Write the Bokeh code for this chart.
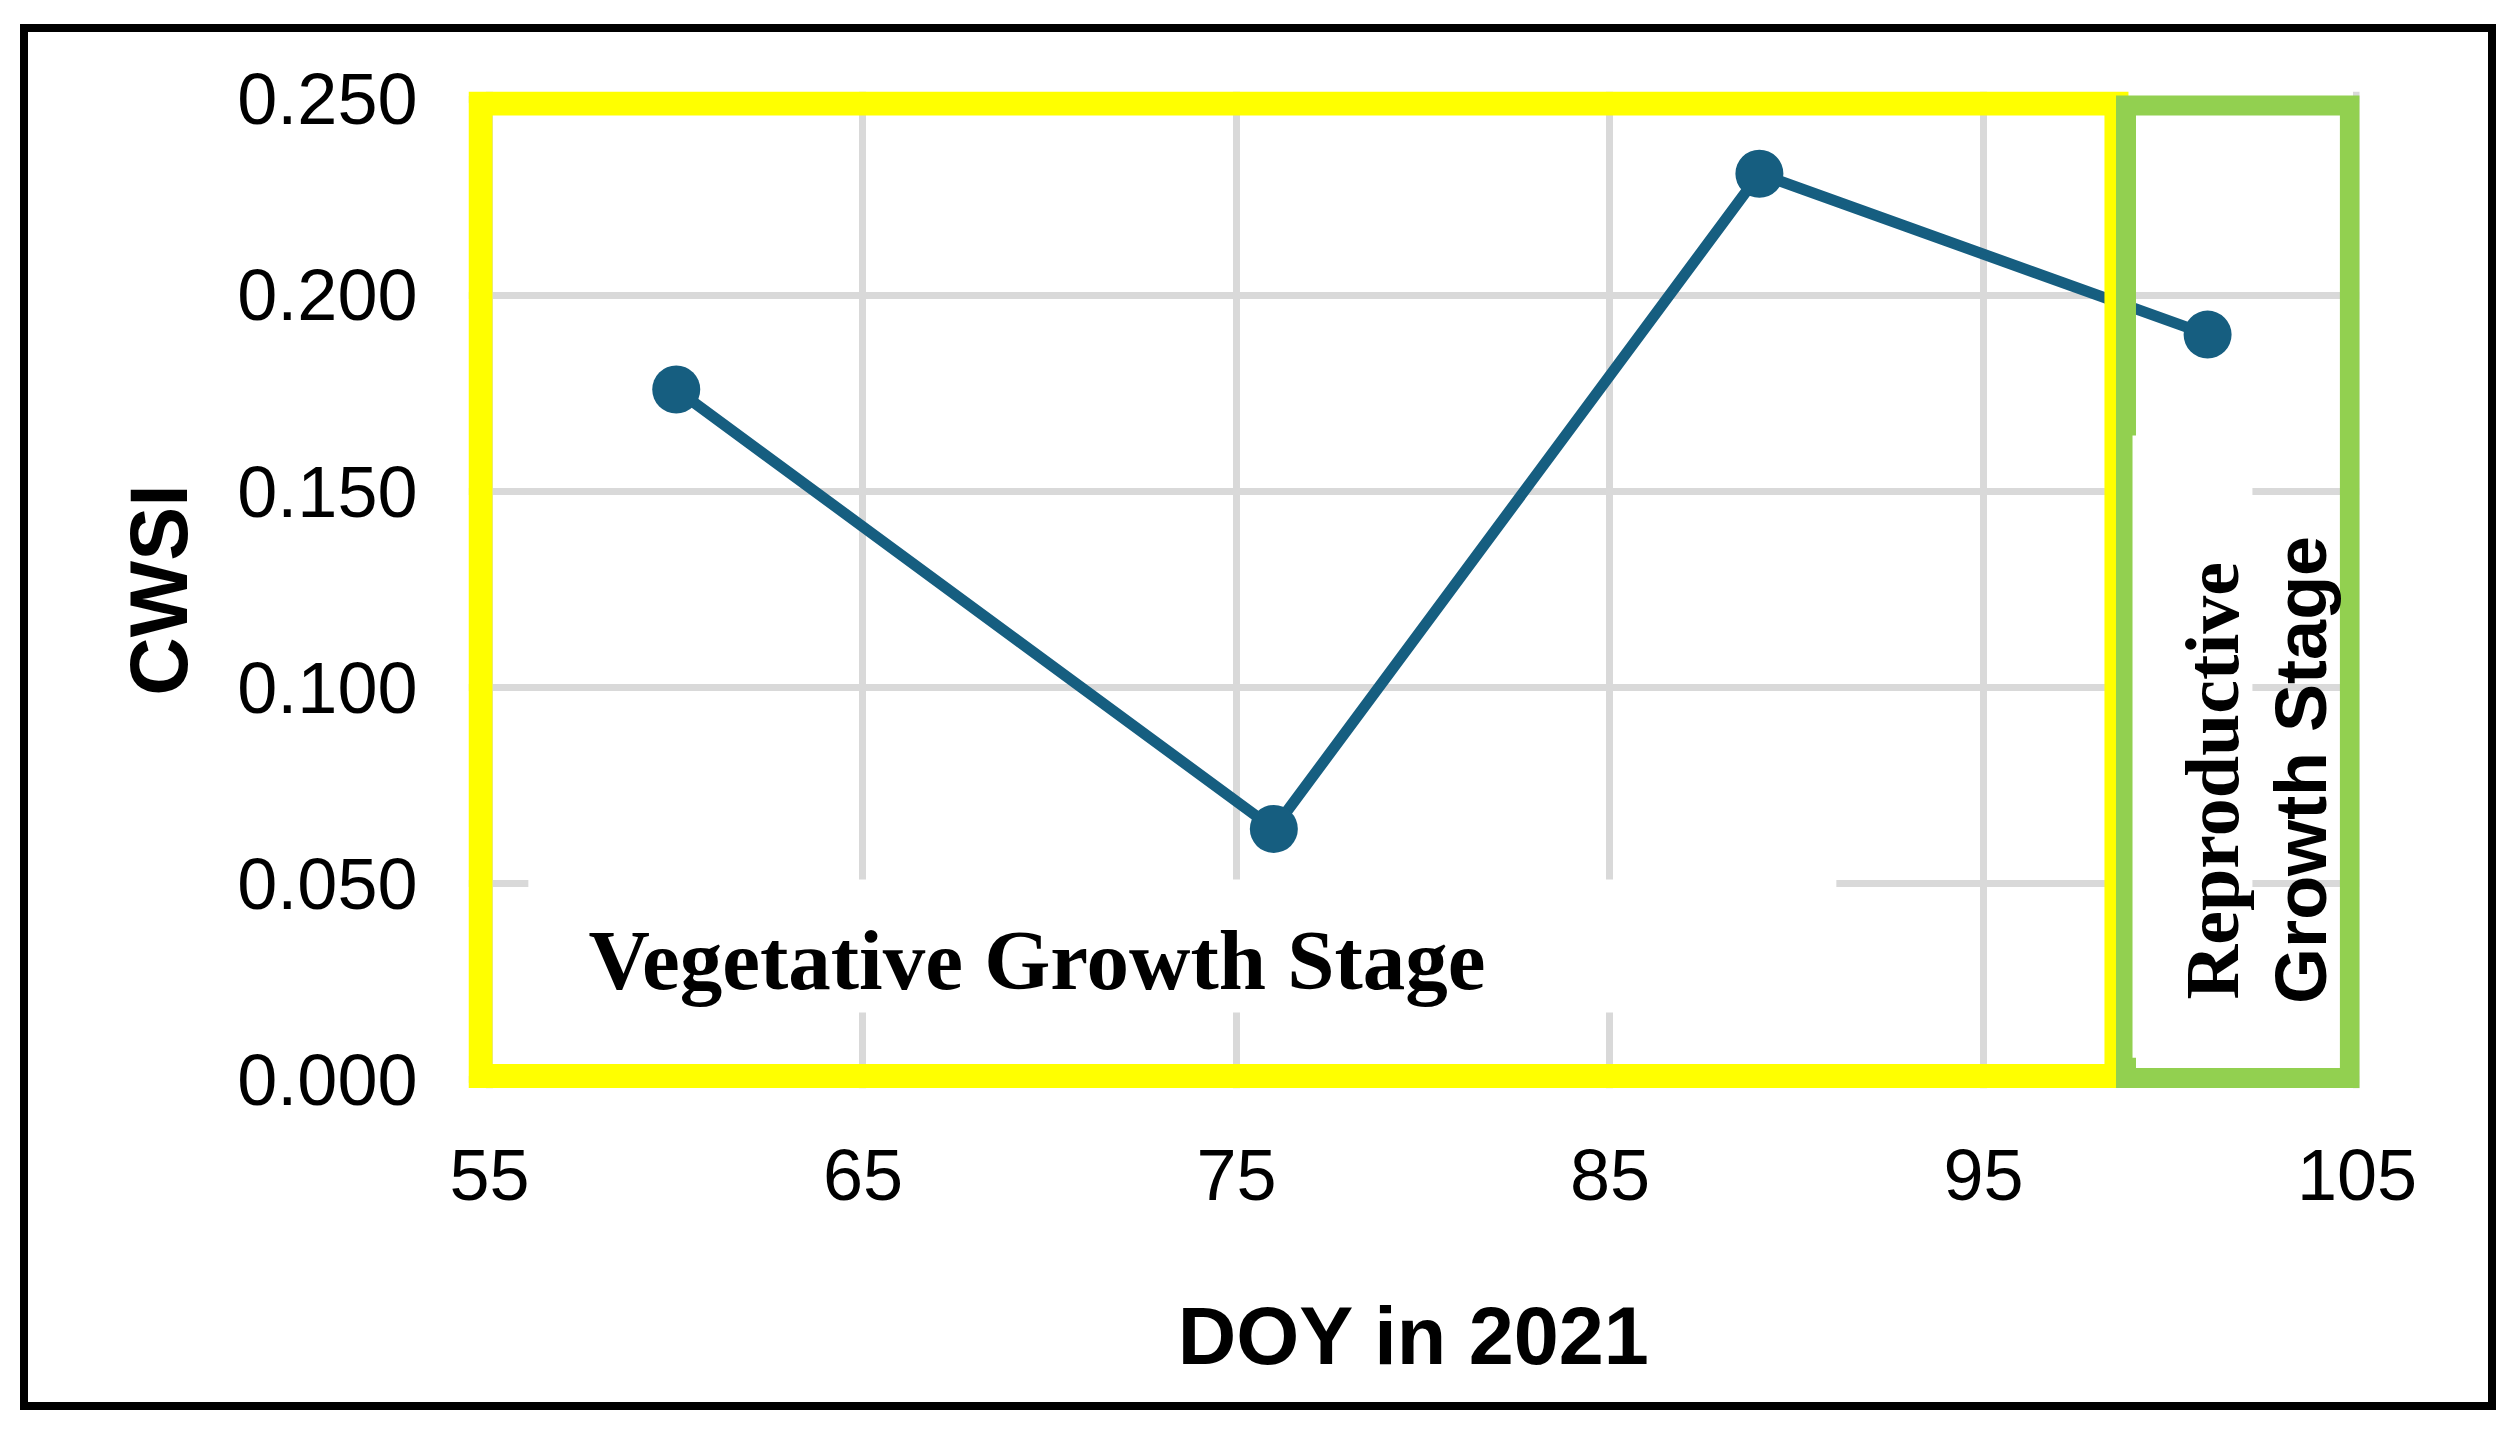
from bokeh.plotting import figure
from bokeh.models import Range1d, FixedTicker
from bokeh.core.properties import value
from bokeh.embed import file_html
from bokeh.resources import INLINE

# ---- data ----
doy = [60, 76, 89, 101]
cwsi = [0.176, 0.064, 0.231, 0.190]

x_ticks = [55, 65, 75, 85, 95, 105]
x_tick_labels = ["55", "65", "75", "85", "95", "105"]
y_ticks = [0.0, 0.05, 0.10, 0.15, 0.20, 0.25]
y_tick_labels = ["0.000", "0.050", "0.100", "0.150", "0.200", "0.250"]

x_title = "DOY in 2021"
y_title = "CWSI"
veg_label = "Vegetative Growth Stage"
rep_label_1 = "Reproductive"
rep_label_2 = "Growth Stage"

# stage boxes (data units)
veg_box = dict(left=54.759, right=98.56, top=0.2489, bottom=0.0010)
rep_box = dict(left=98.815, right=104.81, top=0.2484, bottom=0.0005)
veg_text_bg = dict(left=56.04, right=91.06, top=0.0511, bottom=0.0172)
rep_text_bg = dict(left=98.99, right=102.20, top=0.1643, bottom=0.0057)

LINE_COLOR = "#165e80"
GRID_COLOR = "#d9d9d9"

p = figure(width=2476, height=1386, output_backend="svg", toolbar_location=None,
           x_range=Range1d(54.438, 105.067), y_range=Range1d(-0.00217, 0.25197),
           min_border_left=440, min_border_right=145, min_border_top=59, min_border_bottom=330)
p.styles = {"margin-left": "20px", "margin-top": "24px", "border": "8px solid black"}
p.background_fill_color = "white"
p.border_fill_color = "white"
p.outline_line_color = None

p.xaxis.ticker = FixedTicker(ticks=x_ticks)
p.yaxis.ticker = FixedTicker(ticks=y_ticks)
p.xaxis.major_label_overrides = {t: l for t, l in zip(x_ticks, x_tick_labels)}
p.yaxis.major_label_overrides = {t: l for t, l in zip(y_ticks, y_tick_labels)}

for ax in (p.xaxis, p.yaxis):
    ax.axis_line_color = None
    ax.major_tick_line_color = None
    ax.minor_tick_line_color = None
    ax.major_label_text_font = "Liberation Sans"
    ax.major_label_text_font_size = "72px"
    ax.major_label_text_color = "black"
    ax.axis_label_text_font = "Liberation Sans"
    ax.axis_label_text_font_size = "81px"
    ax.axis_label_text_font_style = "bold"
    ax.axis_label_text_color = "black"

p.xaxis.axis_label = x_title
p.yaxis.axis_label = y_title
p.xaxis.major_label_standoff = 55
p.yaxis.major_label_standoff = 45
p.xaxis.axis_label_standoff = 88
p.yaxis.axis_label_standoff = 30

p.grid.grid_line_color = GRID_COLOR
p.grid.grid_line_width = 7
p.xgrid.ticker = FixedTicker(ticks=x_ticks)
p.ygrid.ticker = FixedTicker(ticks=y_ticks)

# white background behind the vegetative label
p.quad(left=[veg_text_bg["left"]], right=[veg_text_bg["right"]],
       top=[veg_text_bg["top"]], bottom=[veg_text_bg["bottom"]],
       fill_color="white", line_color=None)

# data line
p.line(doy, cwsi, line_color=LINE_COLOR, line_width=11)
p.scatter(doy, cwsi, size=48, fill_color=LINE_COLOR, line_color=None)

# stage boxes
p.quad(left=[veg_box["left"]], right=[veg_box["right"]], top=[veg_box["top"]],
       bottom=[veg_box["bottom"]], fill_color=None, line_color="#ffff00",
       line_width=24, line_join="miter")
p.quad(left=[rep_box["left"]], right=[rep_box["right"]], top=[rep_box["top"]],
       bottom=[rep_box["bottom"]], fill_color=None, line_color="#92d050",
       line_width=20, line_join="miter")
p.quad(left=[rep_text_bg["left"]], right=[rep_text_bg["right"]],
       top=[rep_text_bg["top"]], bottom=[rep_text_bg["bottom"]],
       fill_color="white", line_color=None)

# stage labels
p.text(x=[57.65], y=[0.0305], text=[veg_label], text_font=value("Liberation Serif"),
       text_font_style="bold", text_font_size="85px", text_color="black",
       text_align="left", text_baseline="alphabetic")
p.text(x=[101.13], y=[0.0205], text=[rep_label_1], angle=1.5707963,
       text_font=value("Liberation Serif"), text_font_style="bold",
       text_font_size="76px", text_color="black",
       text_align="left", text_baseline="alphabetic")
p.text(x=[103.50], y=[0.0194], text=[rep_label_2], angle=1.5707963,
       text_font=value("Liberation Sans"), text_font_style="bold",
       text_font_size="72px", text_color="black",
       text_align="left", text_baseline="alphabetic")

open("out.html", "w").write(file_html(p, INLINE))
